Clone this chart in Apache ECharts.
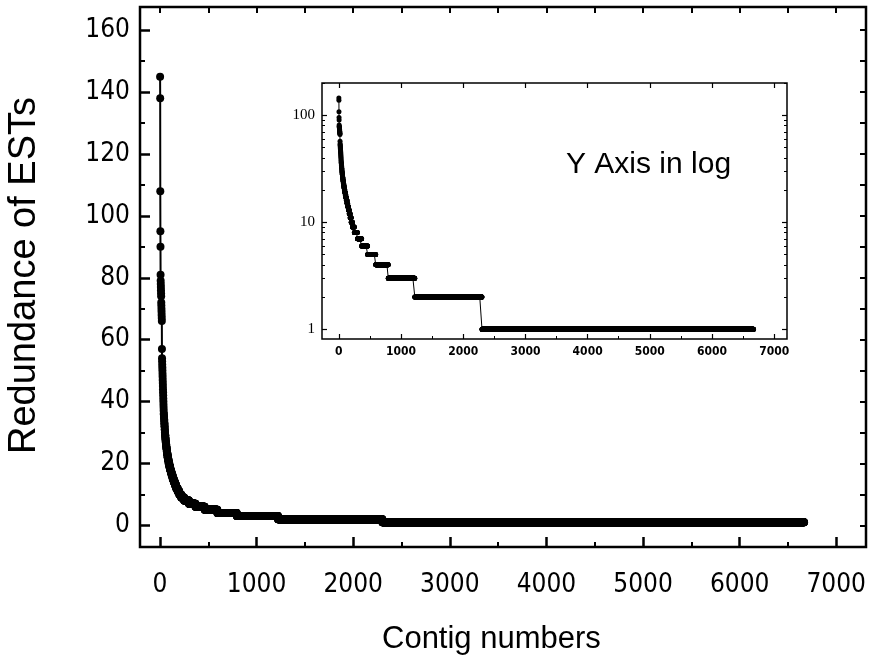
<!DOCTYPE html>
<html>
<head>
<meta charset="utf-8">
<script src="https://cdn.jsdelivr.net/npm/echarts@6/dist/echarts.min.js"></script>
<style>
  html, body { margin: 0; padding: 0; background: #fff; }
  #chart { width: 872px; height: 661px; }
</style>
</head>
<body>
<div id="chart"></div>
<script>
// redundancy of the most abundant contigs, in rank order
const topRedundancy = [145, 138, 108, 95, 90, 81, 79, 78, 77, 76, 75, 74, 72, 71, 70, 69, 68, 67, 66, 57,
  54, 53, 52, 51, 50, 49, 48, 47, 46, 45, 44, 43, 42, 41, 40, 39, 38, 37,
  36, 36, 35, 35, 34, 34, 33, 33, 32, 32, 31, 31, 30, 30,
  29, 29, 29, 28, 28, 28, 27, 27, 27, 26, 26, 26, 26, 25, 25, 25, 25,
  24, 24, 24, 24, 23, 23, 23, 23, 23, 22, 22, 22, 22, 22, 21, 21, 21, 21, 21, 21];
// lower redundancy levels and how many contigs sit on each
const levelValues = [20, 19, 18, 17, 16, 15, 14, 13, 12, 11, 10, 9, 8, 7, 6, 5, 4, 3, 2, 1];
const levelCounts = [7, 8, 8, 9, 10, 11, 12, 13, 15, 17, 20, 30, 50, 68, 95, 131, 201, 427, 1080, 4366];

// tick values
const mainXLabels = [0, 1000, 2000, 3000, 4000, 5000, 6000, 7000];
const mainXMinor = [500, 1500, 2500, 3500, 4500, 5500, 6500];
const mainXTop = [0, 500, 1000, 1500, 2000, 2500, 3000, 3500, 4000, 4500, 5000, 5500, 6000, 6500, 7000];
const mainYLabels = [0, 20, 40, 60, 80, 100, 120, 140, 160];
const mainYMinor = [10, 30, 50, 70, 90, 110, 130, 150];
const mainYRight = [0, 10, 20, 30, 40, 50, 60, 70, 80, 90, 100, 110, 120, 130, 140, 150, 160];
const insetXLabels = [0, 1000, 2000, 3000, 4000, 5000, 6000, 7000];
const insetXMinor = [500, 1500, 2500, 3500, 4500, 5500, 6500];
const insetYLabels = [1, 10, 100];
const insetYMinor = [2, 3, 4, 5, 6, 7, 8, 9, 20, 30, 40, 50, 60, 70, 80, 90, 200];

// rank / redundancy pairs
const points = [];
topRedundancy.forEach(v => points.push([points.length + 1, v]));
levelValues.forEach((v, i) => {
  for (let k = 0; k < levelCounts[i]; k++) points.push([points.length + 1, v]);
});

const chart = echarts.init(document.getElementById('chart'));

const tickFont = "'DejaVu Sans Condensed', 'DejaVu Sans', sans-serif";
const titleFont = "'Liberation Sans', Arial, sans-serif";
const plain = v => String(v);

function ax(grid, pos, min, max, ticks, len, width, labels, extra) {
  return Object.assign({
    type: 'value', gridIndex: grid, position: pos, min: min, max: max,
    axisLine: { show: false, onZero: false },
    splitLine: { show: false },
    axisTick: { show: true, inside: true, length: len, customValues: ticks, lineStyle: { color: '#000', width: width } },
    axisLabel: labels ? labels : { show: false }
  }, extra || {});
}

const mainLabel = { show: true, customValues: mainXLabels, formatter: plain, color: '#000', fontFamily: tickFont, fontSize: 26, margin: 25 };
const mainYLabel = { show: true, customValues: mainYLabels, formatter: plain, color: '#000', fontFamily: tickFont, fontSize: 26, margin: 10 };
const insetXLabel = { show: true, customValues: insetXLabels, formatter: plain, color: '#000', fontFamily: tickFont, fontWeight: 'bold', fontSize: 12, margin: 7 };
const insetYLabel = { show: true, customValues: insetYLabels, formatter: plain, color: '#000', fontFamily: "'Liberation Serif', serif", fontSize: 15, margin: 7 };
const logAx = { type: 'log', logBase: 10 };

const option = {
  animation: false,
  backgroundColor: '#fff',
  grid: [
    { left: 140, right: 6, top: 7, bottom: 114, show: true, borderColor: '#000', borderWidth: 2.5, backgroundColor: '#fff' },
    { left: 322, right: 85, top: 83, bottom: 322, show: true, borderColor: '#000', borderWidth: 1.5, backgroundColor: '#fff' }
  ],
  xAxis: [
    ax(0, 'bottom', -207, 7308, mainXLabels, 10, 2.5, mainLabel),
    ax(0, 'bottom', -207, 7308, mainXMinor, 5, 2),
    ax(0, 'top', -207, 7308, mainXTop, 6, 2),
    ax(1, 'bottom', -270, 7205, insetXLabels, 5, 1.2, insetXLabel),
    ax(1, 'bottom', -270, 7205, insetXMinor, 3, 1),
    ax(1, 'top', -270, 7205, insetXLabels, 5, 1.2)
  ],
  yAxis: [
    ax(0, 'left', -7, 167.5, mainYLabels, 10, 2.5, mainYLabel),
    ax(0, 'left', -7, 167.5, mainYMinor, 5, 2),
    ax(0, 'right', -7, 167.5, mainYRight, 6, 2),
    ax(1, 'left', 0.81, 200, insetYLabels, 5, 1.2, insetYLabel, logAx),
    ax(1, 'left', 0.81, 200, insetYMinor, 3, 1, null, logAx),
    ax(1, 'right', 0.81, 200, insetYLabels, 5, 1.2, null, logAx),
    ax(1, 'right', 0.81, 200, insetYMinor, 3, 1, null, logAx)
  ],
  series: [
    {
      name: 'main', type: 'line', xAxisIndex: 0, yAxisIndex: 0,
      data: points, symbol: 'circle', symbolSize: 8, showAllSymbol: true,
      lineStyle: { color: '#000', width: 2 }, itemStyle: { color: '#000' }
    },
    {
      name: 'inset', type: 'line', xAxisIndex: 3, yAxisIndex: 3,
      data: points, symbol: 'circle', symbolSize: 5, showAllSymbol: true,
      lineStyle: { color: '#000', width: 1 }, itemStyle: { color: '#000' }
    }
  ],
  graphic: [
    { type: 'text', left: 382, top: 624, style: { text: 'Contig numbers', font: '31px ' + titleFont, fill: '#000' } },
    { type: 'text', x: 6, y: 454, rotation: Math.PI / 2, style: { text: 'Redundance of ESTs', font: '38px ' + titleFont, fill: '#000' } },
    { type: 'text', left: 566, top: 150, style: { text: 'Y Axis in log', font: '30px ' + titleFont, fill: '#000' } }
  ]
};

chart.setOption(option);
</script>
</body>
</html>
